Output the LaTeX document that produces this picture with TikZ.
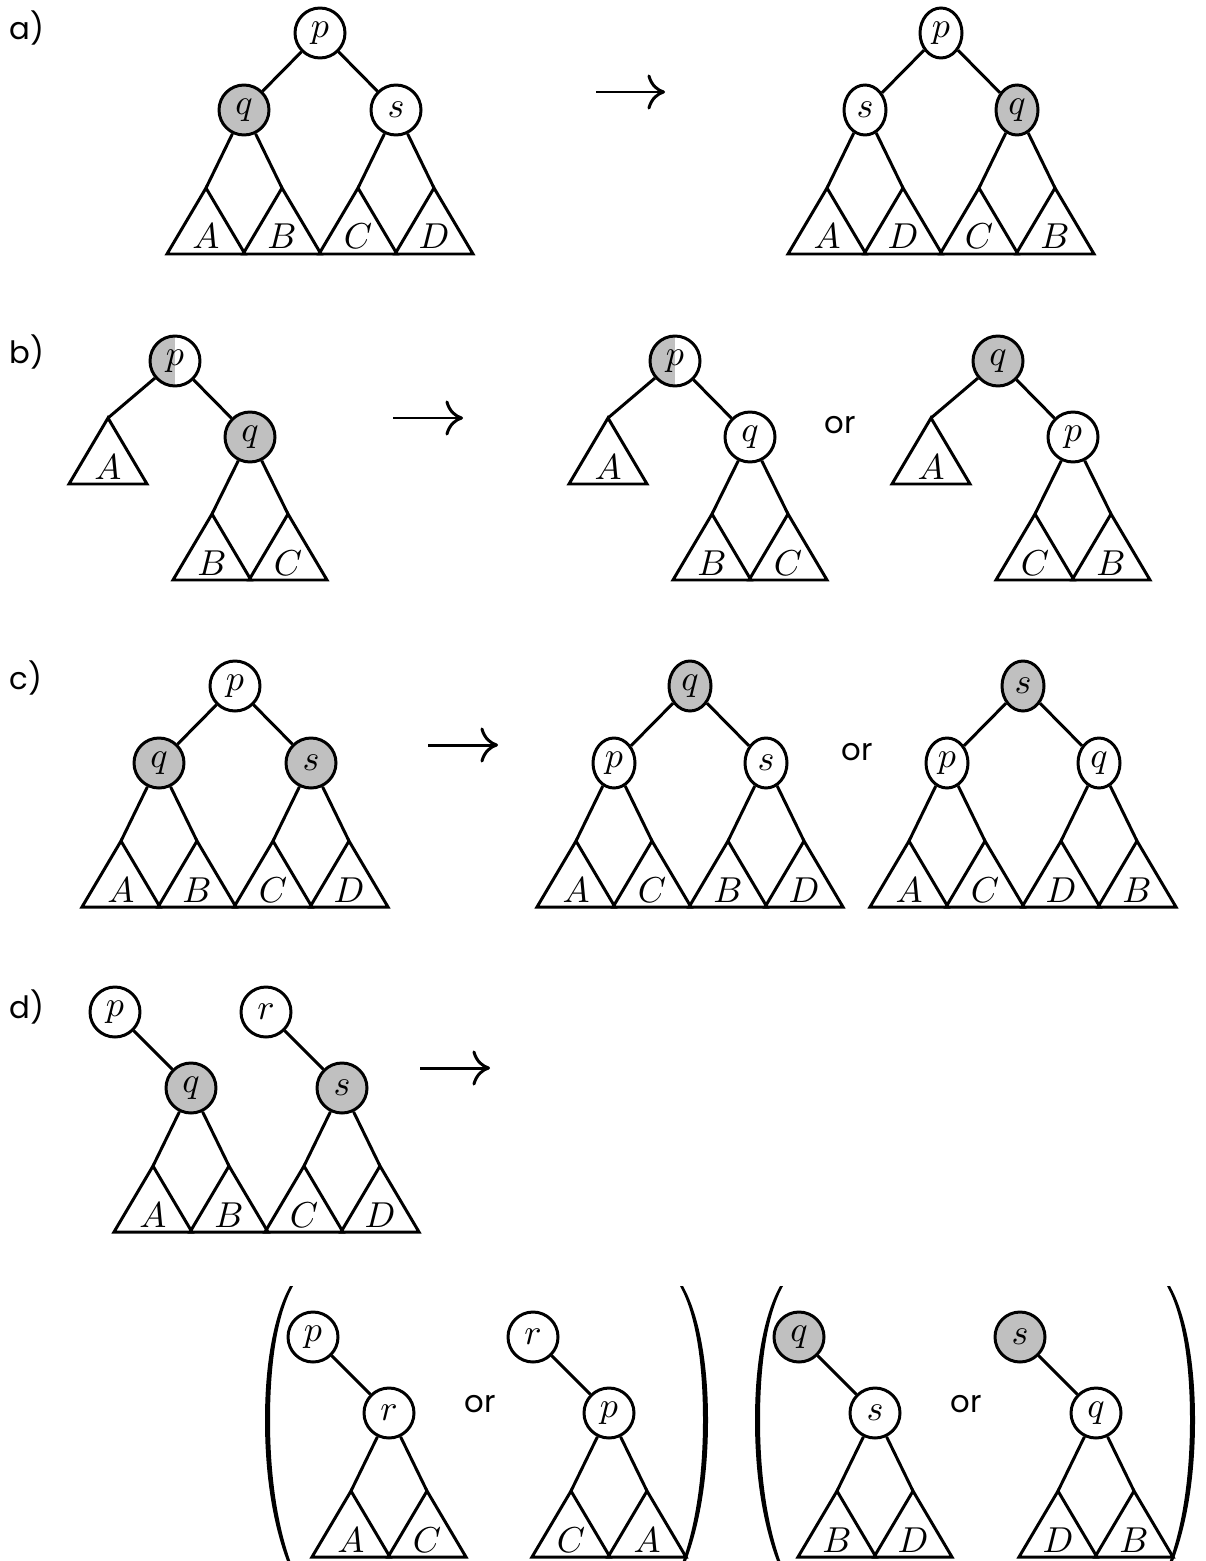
\documentclass[tikz,border=0pt]{standalone}
\usepackage{graphicx}
\usepackage{fontspec}
\newfontfamily\popfont{Poppins}
\usetikzlibrary{shapes.geometric,arrows.meta}
\definecolor{shgray}{RGB}{192,192,192}
\newcommand\ml[1]{{\fontsize{10}{12}\selectfont\scalebox{2.05}{$#1$}}}
\newcommand\subtri[4]{%
  \coordinate (#1) at (#2,#3);
  \draw[tristyle] (#1) -- ++(-39,66) -- ++(78,0) -- cycle;
  \node[trilab] (#1l) at (#2,#3+61) {\ml{#4}};
}
\newcommand\bigparen{%
  \fill (25,0) .. controls (11,25) and (0,70) .. (0,134) .. controls (0,200) and (11,250) .. (26,285)
     -- (29,285) .. controls (15,250) and (5,200) .. (5,134) .. controls (5,70) and (14,25) .. (28,0) -- cycle;}
\tikzset{
  nd/.style={circle, draw, line width=1.7pt, minimum size=1cm, inner sep=0pt, fill=white},
  shd/.style={nd, fill=shgray},
  el/.style={ellipse, draw, line width=1.7pt, minimum width=0.84cm, minimum height=1cm, inner sep=0pt, fill=white},
  eshd/.style={el, fill=shgray},
  half/.style={nd, path picture={\fill[shgray] (path picture bounding box.south west) rectangle (path picture bounding box.north);}},
  edge/.style={line width=1.7pt},
  tristyle/.style={line width=1.7pt, line join=miter},
  trilab/.style={anchor=base, inner sep=0pt},
  txt/.style={font=\popfont\fontsize{17.5}{21}\selectfont, inner sep=0pt},
  arr/.style={line width=1.7pt, -{Computer Modern Rightarrow[length=10pt,width=20pt]}}
}
\begin{document}
\begin{tikzpicture}[x=0.02cm, y=-0.02cm]
\useasboundingbox (0,0) rectangle (1206,1561);
\clip (0,0) rectangle (1206,1561);

% ---------------- a)
\node[txt, anchor=west] (la) at (9,28) {a)};
\node[nd]  (a1p) at (320,33) {\ml{p}};
\node[shd] (a1q) at (244,110) {\ml{q}};
\node[nd]  (a1s) at (396,110) {\ml{s}};
\subtri{a1A}{206}{188}{A}
\subtri{a1B}{282}{188}{B}
\subtri{a1C}{358}{188}{C}
\subtri{a1D}{434}{188}{D}
\draw[edge] (a1p) -- (a1q); \draw[edge] (a1p) -- (a1s);
\draw[edge] (a1q) -- (a1A); \draw[edge] (a1q) -- (a1B);
\draw[edge] (a1s) -- (a1C); \draw[edge] (a1s) -- (a1D);

\coordinate (aas) at (596,92); \coordinate (aae) at (665,92);
\draw[arr] (aas) -- (aae);

\node[el]   (a2p) at (941,33) {\ml{p}};
\node[el]   (a2s) at (865,110) {\ml{s}};
\node[eshd] (a2q) at (1017,110) {\ml{q}};
\subtri{a2A}{827}{188}{A}
\subtri{a2D}{903}{188}{D}
\subtri{a2C}{979}{188}{C}
\subtri{a2B}{1055}{188}{B}
\draw[edge] (a2p) -- (a2s); \draw[edge] (a2p) -- (a2q);
\draw[edge] (a2s) -- (a2A); \draw[edge] (a2s) -- (a2D);
\draw[edge] (a2q) -- (a2C); \draw[edge] (a2q) -- (a2B);

% ---------------- b)
\node[txt, anchor=west] (lb) at (9,352) {b)};
\node[half] (b1p) at (175,361) {\ml{p}};
\node[shd]  (b1q) at (250,437) {\ml{q}};
\subtri{b1A}{108}{418}{A}
\subtri{b1B}{212}{514}{B}
\subtri{b1C}{288}{514}{C}
\draw[edge] (b1p) -- (b1A); \draw[edge] (b1p) -- (b1q);
\draw[edge] (b1q) -- (b1B); \draw[edge] (b1q) -- (b1C);

\coordinate (bas) at (393,418); \coordinate (bae) at (463,418);
\draw[arr] (bas) -- (bae);

\node[half] (b2p) at (675,361) {\ml{p}};
\node[nd]   (b2q) at (750,437) {\ml{q}};
\subtri{b2A}{608}{418}{A}
\subtri{b2B}{712}{514}{B}
\subtri{b2C}{788}{514}{C}
\draw[edge] (b2p) -- (b2A); \draw[edge] (b2p) -- (b2q);
\draw[edge] (b2q) -- (b2B); \draw[edge] (b2q) -- (b2C);

\node[txt] (bor) at (840,425) {or};

\node[shd] (b3q) at (998,361) {\ml{q}};
\node[nd]  (b3p) at (1073,437) {\ml{p}};
\subtri{b3A}{931}{418}{A}
\subtri{b3C}{1035}{514}{C}
\subtri{b3B}{1111}{514}{B}
\draw[edge] (b3q) -- (b3A); \draw[edge] (b3q) -- (b3p);
\draw[edge] (b3p) -- (b3C); \draw[edge] (b3p) -- (b3B);

% ---------------- c)
\node[txt, anchor=west] (lc) at (9,678) {c)};
\node[nd]  (c1p) at (235,686) {\ml{p}};
\node[shd] (c1q) at (159,763) {\ml{q}};
\node[shd] (c1s) at (311,763) {\ml{s}};
\subtri{c1A}{121}{841}{A}
\subtri{c1B}{197}{841}{B}
\subtri{c1C}{273}{841}{C}
\subtri{c1D}{349}{841}{D}
\draw[edge] (c1p) -- (c1q); \draw[edge] (c1p) -- (c1s);
\draw[edge] (c1q) -- (c1A); \draw[edge] (c1q) -- (c1B);
\draw[edge] (c1s) -- (c1C); \draw[edge] (c1s) -- (c1D);

\coordinate (cas) at (428,745); \coordinate (cae) at (498,745);
\draw[arr] (cas) -- (cae);

\node[eshd] (c2q) at (690,686) {\ml{q}};
\node[el]   (c2p) at (614,763) {\ml{p}};
\node[el]   (c2s) at (766,763) {\ml{s}};
\subtri{c2A}{576}{841}{A}
\subtri{c2C}{652}{841}{C}
\subtri{c2B}{728}{841}{B}
\subtri{c2D}{804}{841}{D}
\draw[edge] (c2q) -- (c2p); \draw[edge] (c2q) -- (c2s);
\draw[edge] (c2p) -- (c2A); \draw[edge] (c2p) -- (c2C);
\draw[edge] (c2s) -- (c2B); \draw[edge] (c2s) -- (c2D);

\node[txt] (cor) at (857,752) {or};

\node[eshd] (c3s) at (1023,686) {\ml{s}};
\node[el]   (c3p) at (947,763) {\ml{p}};
\node[el]   (c3q) at (1099,763) {\ml{q}};
\subtri{c3A}{909}{841}{A}
\subtri{c3C}{985}{841}{C}
\subtri{c3D}{1061}{841}{D}
\subtri{c3B}{1137}{841}{B}
\draw[edge] (c3s) -- (c3p); \draw[edge] (c3s) -- (c3q);
\draw[edge] (c3p) -- (c3A); \draw[edge] (c3p) -- (c3C);
\draw[edge] (c3q) -- (c3D); \draw[edge] (c3q) -- (c3B);

% ---------------- d)
\node[txt, anchor=west] (ld) at (9,1007) {d)};
\node[nd]  (d1p) at (115,1012) {\ml{p}};
\node[shd] (d1q) at (191,1088) {\ml{q}};
\node[nd]  (d1r) at (266,1012) {\ml{r}};
\node[shd] (d1s) at (342,1088) {\ml{s}};
\subtri{d1A}{153}{1166}{A}
\subtri{d1B}{229}{1166}{B}
\subtri{d1C}{304}{1166}{C}
\subtri{d1D}{380}{1166}{D}
\draw[edge] (d1p) -- (d1q); \draw[edge] (d1r) -- (d1s);
\draw[edge] (d1q) -- (d1A); \draw[edge] (d1q) -- (d1B);
\draw[edge] (d1s) -- (d1C); \draw[edge] (d1s) -- (d1D);

\coordinate (das) at (420,1068); \coordinate (dae) at (490,1068);
\draw[arr] (das) -- (dae);

% bottom groups
\begin{scope}[shift={(265,1286)}] \bigparen \end{scope}
\begin{scope}[shift={(708,1286)}, xscale=-1] \bigparen \end{scope}
\begin{scope}[shift={(755,1286)}] \bigparen \end{scope}
\begin{scope}[shift={(1195,1286)}, xscale=-1] \bigparen \end{scope}

\node[nd] (e1p) at (313,1337) {\ml{p}};
\node[nd] (e1r) at (389,1413) {\ml{r}};
\subtri{e1A}{351}{1491}{A}
\subtri{e1C}{427}{1491}{C}
\draw[edge] (e1p) -- (e1r);
\draw[edge] (e1r) -- (e1A); \draw[edge] (e1r) -- (e1C);

\node[txt] (eor1) at (480,1404) {or};

\node[nd] (e2r) at (533,1337) {\ml{r}};
\node[nd] (e2p) at (609,1413) {\ml{p}};
\subtri{e2C}{571}{1491}{C}
\subtri{e2A}{647}{1491}{A}
\draw[edge] (e2r) -- (e2p);
\draw[edge] (e2p) -- (e2C); \draw[edge] (e2p) -- (e2A);

\node[shd] (e3q) at (799,1337) {\ml{q}};
\node[nd]  (e3s) at (875,1413) {\ml{s}};
\subtri{e3B}{837}{1491}{B}
\subtri{e3D}{913}{1491}{D}
\draw[edge] (e3q) -- (e3s);
\draw[edge] (e3s) -- (e3B); \draw[edge] (e3s) -- (e3D);

\node[txt] (eor2) at (966,1404) {or};

\node[shd] (e4s) at (1020,1337) {\ml{s}};
\node[nd]  (e4q) at (1096,1413) {\ml{q}};
\subtri{e4D}{1058}{1491}{D}
\subtri{e4B}{1134}{1491}{B}
\draw[edge] (e4s) -- (e4q);
\draw[edge] (e4q) -- (e4D); \draw[edge] (e4q) -- (e4B);
\end{tikzpicture}
\end{document}
